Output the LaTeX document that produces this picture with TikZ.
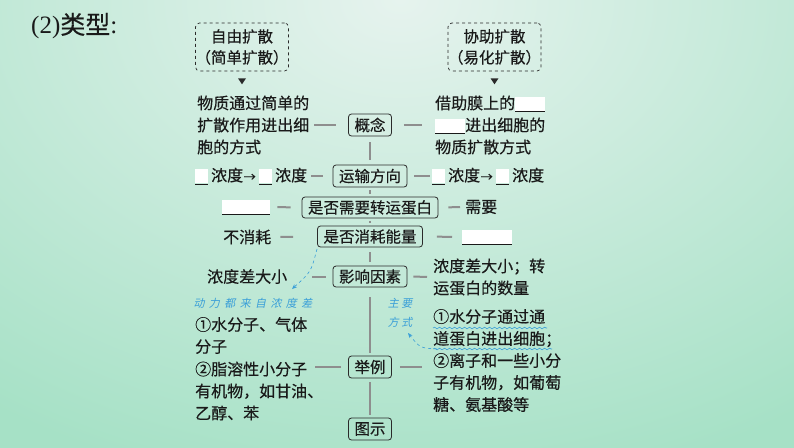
\documentclass[tikz,border=0pt]{standalone}
\usepackage{fontspec}
\setmainfont{Liberation Serif}
\newfontfamily\cjk[FakeBold=0.4]{Noto Sans CJK SC}
\newfontfamily\cjkslant[FakeSlant=0.2]{Noto Sans CJK SC}
\usetikzlibrary{calc,decorations.pathmorphing,arrows.meta}
\definecolor{txt}{HTML}{1A1A1A}
\definecolor{bx}{HTML}{2A2A2A}
\definecolor{cn}{HTML}{8E8E8E}
\definecolor{bl}{HTML}{3A9FD8}
\definecolor{bgl}{HTML}{E6F3EE}
\definecolor{bgg}{HTML}{A6E1C6}
\newcommand{\blk}[1]{{\color{white}\rule[-2pt]{#1}{14pt}}\hspace{-#1}\rule[-3pt]{#1}{0.7pt}}
\newcommand{\gapp}{\hspace{4.4pt}}
\newcommand{\gappb}{\hspace{2.5pt}}
\newcommand{\arr}{\makebox[13pt]{\fontsize{12}{12}\selectfont →}}
\tikzset{
  box/.style={draw=bx, line width=0.8pt, rounded corners=3pt, inner xsep=6pt, inner ysep=0pt,
    minimum height=22pt, font=\cjk\fontsize{15.5}{18}\selectfont, text=txt},
  dbox/.style={draw=bx, dashed, line width=0.7pt, rounded corners=4pt, minimum width=90pt,
    minimum height=48pt, align=center, font=\cjk\fontsize{15.5}{21}\selectfont, inner sep=0pt, text=txt},
  txtn/.style={anchor=west, inner sep=0pt, align=left, font=\cjk\fontsize{16}{22}\selectfont, text=txt},
  conn/.style={draw=cn, line width=2pt},
  bluet/.style={text=bl, font=\cjkslant\fontsize{11}{19}\selectfont, inner sep=0pt},
  bluea/.style={draw=bl, dashed, line width=0.6pt, -{Stealth[length=5pt,width=4pt]}},
  wave/.style={draw=bl, line width=0.6pt, decorate, decoration={snake, amplitude=0.8pt, segment length=5pt}}
}
\begin{document}
\begin{tikzpicture}[x=1pt,y=-1pt]
% background
\begin{scope}
\clip (0,0) rectangle (794,447);
\shade[inner color=bgl, outer color=bgg] (-300,-500) rectangle (1100,500);
\end{scope}
\useasboundingbox (0,0) rectangle (794,447);

% title
\node[anchor=west, inner sep=0pt, text=txt, font=\fontsize{25}{28}\selectfont] (title) at (31,26) {(2){\cjk 类型}:};

% top dashed boxes
\node[dbox] (free) at (242,47) {自由扩散\\（简单扩散）};
\node[dbox] (facil) at (494.5,47) {协助扩散\\（易化扩散）};
\fill[bx] ($(free.south)+(-4,7)$) -- ++(8,0) -- ++(-4,6) -- cycle;
\fill[bx] ($(facil.south)+(-4,7)$) -- ++(8,0) -- ++(-4,6) -- cycle;

% center boxes
\node[box] (gn) at (370,125) {概念};
\node[box] (ys) at (370,176) {运输方向};
\node[box, minimum height=21pt] (zy) at (370,207.5) {是否需要转运蛋白};
\node[box, minimum height=21pt] (nl) at (370,236.5) {是否消耗能量};
\node[box, minimum height=21pt] (yx) at (370,276.5) {影响因素};
\node[box] (jl) at (370,367) {举例};
\node[box] (ts) at (370,429) {图示};

% vertical connectors
\draw[conn, shorten <=6pt, shorten >=5pt] (gn) -- (ys);
\draw[conn, shorten <=3pt, shorten >=3pt] (ys) -- (zy);
\draw[conn, shorten <=2.5pt, shorten >=2.5pt] (zy) -- (nl);
\draw[conn, shorten <=5pt, shorten >=4pt] (nl) -- (yx);
\draw[conn, shorten <=10pt, shorten >=3pt] (yx) -- (jl);
\draw[conn, shorten <=4pt, shorten >=3pt] (jl) -- (ts);

% left texts
\node[txtn] (L1) at (197,125) {物质通过简单的\\扩散作用进出细\\胞的方式};
\node[txtn] (L2) at (195,176) {\blk{13pt}\hspace{3pt}浓度\arr\hspace{3pt}\blk{13pt}\hspace{3pt}浓度};
\node[txtn] (L3) at (222,207) {\blk{48pt}};
\node[txtn] (L4) at (223,237) {不消耗};
\node[txtn] (L5) at (207,276.5) {浓度差大小};
\node[txtn] (L6) at (195,335.5) {①水分子、气体\\分子};
\node[txtn] (L7) at (195,391) {②脂溶性小分子\\有机物，如甘油、\\乙醇、苯};
\coordinate (c7) at (315,367);

% right texts
\node[txtn] (R1) at (435,125) {借助膜上的\blk{30pt}\\\blk{30pt}进出细胞的\\物质扩散方式};
\node[txtn] (R2) at (432,176) {\blk{13pt}\hspace{3pt}浓度\arr\hspace{3pt}\blk{13pt}\hspace{3pt}浓度};
\node[txtn] (R3) at (465,207) {需要};
\node[txtn] (R4) at (462,237) {\blk{50pt}};
\node[txtn] (R5) at (433,277) {浓度差大小；转\\运蛋白的数量};
\node[txtn] (R6) at (433,360.5) {①水分子通过通\\道蛋白进出细胞；\\②离子和一些小分\\子有机物，如葡萄\\糖、氨基酸等};

% horizontal connectors
\draw[conn, shorten <=5pt, shorten >=12pt] (L1.east) -- (gn.west);
\draw[conn, shorten <=12pt, shorten >=13pt] (gn.east) -- (R1.west);
\draw[conn, shorten <=4pt, shorten >=10pt] (L2.east) -- (ys.west);
\draw[conn, shorten <=7pt, shorten >=2pt] (ys.east) -- (R2.west);
\draw[conn, shorten <=7pt, shorten >=11pt] (L3.east) -- (zy.west);
\draw[conn, shorten <=10pt, shorten >=5pt] (zy.east) -- (R3.west);
\draw[conn, shorten <=9pt, shorten >=24pt] (L4.east) -- (nl.west);
\draw[conn, shorten <=14pt, shorten >=10pt] (nl.east) -- (R4.west);
\draw[conn, shorten <=25pt, shorten >=7pt] (L5.east) -- (yx.west);
\draw[conn, shorten <=6pt, shorten >=6pt] (yx.east) -- (R5.west);
\draw[conn, shorten <=7pt] (jl.west) -- (c7);
\draw[conn, shorten <=8pt, shorten >=11pt] (jl.east) -- (jl.east -| R6.west);

% blue annotations
\node[bluet] (bt1) at (253,303) {动\gapp 力\gapp 都\gapp 来\gapp 自\gapp 浓\gapp 度\gapp 差};
\node[bluet, align=center] (bt2) at (400,312.5) {主\gappb 要\\方\gappb 式};
\coordinate (a1s) at (317,249);
\coordinate (a1e) at (292,289);
\draw[bluea] (a1s) .. controls (311,272) .. (a1e);
\draw[wave] (433,328) -- (547,328);
\draw[wave] (433,349) -- (552,349);
\coordinate (a2s) at (437,349);
\coordinate (a2e) at (408,333);
\draw[bluea] (a2s) .. controls (420,348) .. (a2e);
\end{tikzpicture}
\end{document}
